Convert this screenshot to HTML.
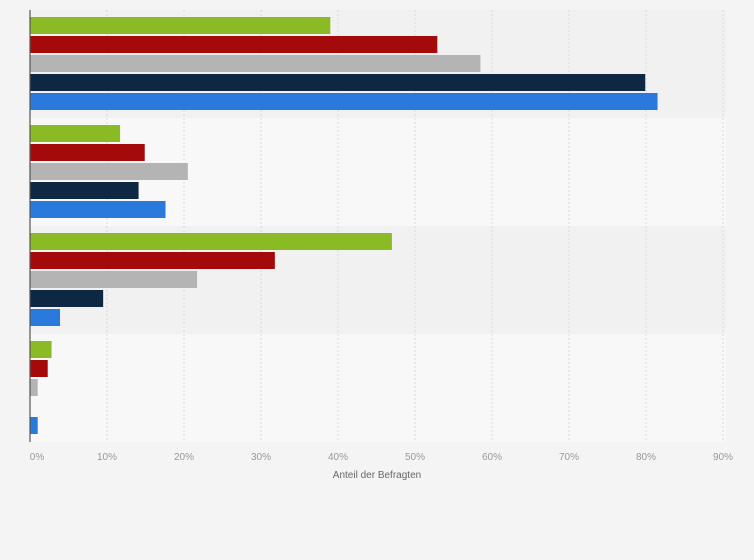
<!DOCTYPE html>
<html><head><meta charset="utf-8"><style>
body{margin:0;background:#f4f4f4;font-family:"Liberation Sans",sans-serif}
svg{display:block}
</style></head><body>
<svg id="c" width="754" height="560"></svg>
<script>
const categories=["Gruppe 1","Gruppe 2","Gruppe 3","Gruppe 4"];
const seriesGreen=[39,11.7,47,2.8];
const seriesRed=[52.9,14.9,31.8,2.3];
const seriesGray=[58.5,20.5,21.7,1];
const seriesNavy=[79.9,14.1,9.5,0];
const seriesBlue=[81.5,17.6,3.9,1];
const tickLabels=["0%","10%","20%","30%","40%","50%","60%","70%","80%","90%"];
const series=[[seriesGreen,"#8abb25"],[seriesRed,"#a50a0a"],[seriesGray,"#b4b4b4"],[seriesNavy,"#0e2742"],[seriesBlue,"#2a79dc"]];
const svg=document.getElementById('c');const NS="http://www.w3.org/2000/svg";
const x0=30,pxPer=7.7,top0=10,band=108;
const xs=v=>x0+v*pxPer;
function mk(t,a){const e=document.createElementNS(NS,t);for(const k in a)e.setAttribute(k,a[k]);svg.appendChild(e);return e;}
categories.forEach((c,i)=>{const r=mk('rect',{x:x0,y:top0+i*band,width:696,height:band,fill:i%2?'#f8f8f8':'#f1f1f1'});

});
tickLabels.forEach((t,i)=>{const x=xs(i*10);
if(i>0){const l=mk('line',{x1:x,x2:x,y1:top0,y2:top0+4*band,stroke:'#dcdcdc','stroke-dasharray':'2,2'});

}
const tx=mk('text',{x:x+(i==0?7:0),y:460,'text-anchor':'middle','font-size':'10',fill:'#999'});tx.textContent=t;

});
categories.forEach((c,i)=>{series.forEach(([arr,col],j)=>{const v=arr[i];if(v<=0)return;
const r=mk('rect',{x:x0,y:top0+i*band+7+j*19,width:xs(v)-x0,height:17,fill:col});

});});
const ax=mk('line',{x1:x0,x2:x0,y1:top0,y2:top0+4*band,stroke:'#555','stroke-width':1.2});


const tt=mk('text',{x:377,y:478,'text-anchor':'middle','font-size':'10',fill:'#666'});tt.textContent="Anteil der Befragten";


</script>
</body></html>
